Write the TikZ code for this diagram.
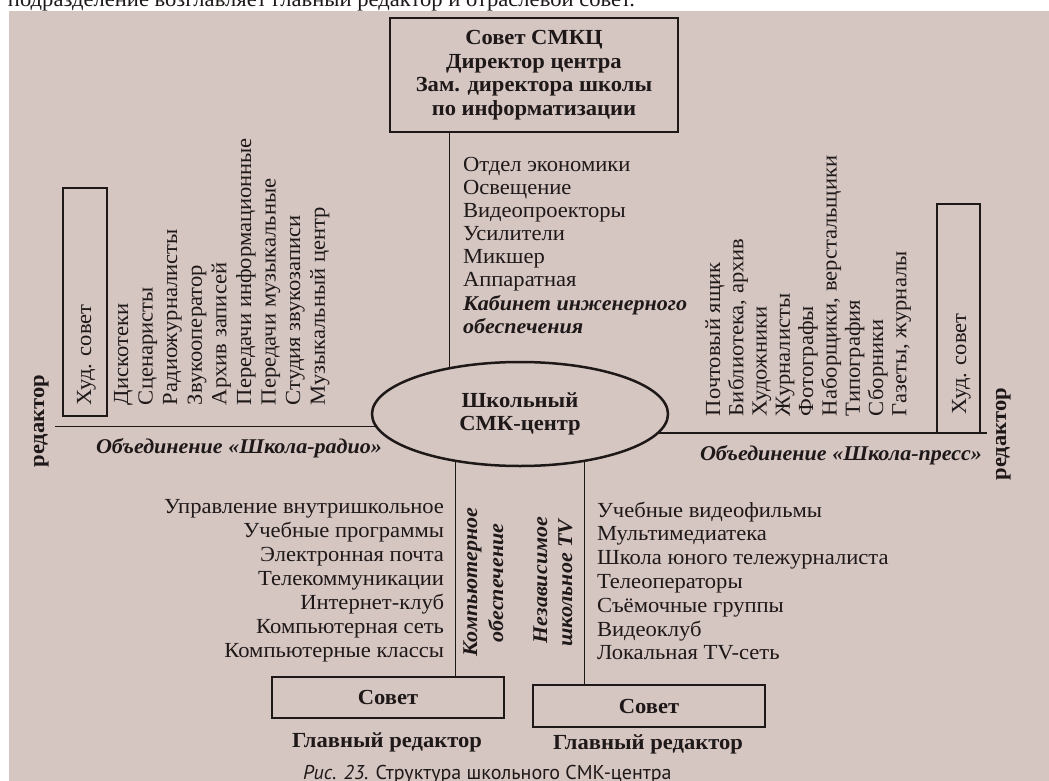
\documentclass[tikz,border=0pt]{standalone}
\usepackage{fontspec}
\setmainfont{Liberation Serif}[FakeStretch=1.05]
\newfontfamily\capfont{PT Sans}
\usetikzlibrary{shapes.geometric}
\definecolor{paper}{RGB}{213,198,194}
\definecolor{ink}{RGB}{30,24,24}

\begin{document}
\begin{tikzpicture}[x=1pt,y=-1pt,
  every node/.style={inner sep=0pt, outer sep=0pt, text=ink},
  body/.style={font=\fontsize{21.5}{23.5}\selectfont},
  heavy/.style={font=\bfseries\fontsize{21.5}{23.5}\selectfont},
  slanted/.style={font=\bfseries\itshape\fontsize{21}{23.5}\selectfont},
  frame/.style={draw=ink, line width=2.8pt, rectangle},
  link/.style={draw=ink, line width=1.8pt},
  up/.style={rotate=90, anchor=base west},
]
\useasboundingbox (0,0) rectangle (1049,781);
\clip (0,0) rectangle (1049,781);
\fill[white] (0,0) rectangle (1049,781);
\fill[paper] (9,11) rectangle (1049,781);

% last line of the preceding paragraph
\node[body, anchor=base west] (runin) at (8,7) {подразделение возглавляет главный редактор и отраслевой совет.};

% council box
\node[frame, heavy, align=center, minimum width=288pt, minimum height=114pt] (council) at (534,75)
  {Совет СМКЦ\\Директор центра\\Зам. директора школы\\по информатизации};

% engineering support list
\foreach [count=\i] \t in {Отдел экономики, Освещение, Видеопроекторы, Усилители, Микшер, Аппаратная}
  \node[body, anchor=base west] (eq\i) at (463, {171+23.1*(\i-1)}) {\t};
\node[slanted, anchor=base west] (eqA) at (463, 310) {Кабинет инженерного};
\node[slanted, anchor=base west] (eqB) at (463, 333) {обеспечения};

% central hub
\node[ellipse, draw=ink, line width=2.5pt, minimum width=296pt, minimum height=104pt,
      heavy, align=center] (hub) at (520,414) {Школьный\\СМК-центр};

% free ends of the horizontal branches
\coordinate (radioEnd) at (55,427);
\coordinate (pressEnd) at (987,434);

% art councils
\node[frame, minimum width=44pt, minimum height=228pt] (artL) at (85,302) {};
\node[body, up] (artLtext) at (91,405) {Худ. совет};
\node[frame, minimum width=43pt, minimum height=229pt] (artR) at (958.5,318.5) {};
\node[body, up] (artRtext) at (966,414) {Худ. совет};

% editors
\node[heavy, rotate=90, anchor=base] (edL) at (44,421) {редактор};
\node[heavy, rotate=90, anchor=base] (edR) at (1006,434) {редактор};

% radio branch
\foreach [count=\i] \t in {Дискотеки, Сценаристы, Радиожурналисты, Звукооператор, Архив записей,
    Передачи информационные, Передачи музыкальные, Студия звукозаписи, Музыкальный центр}
  \node[body, up] (radio\i) at ({128+24.6*(\i-1)}, 405) {\t};
\node[slanted, anchor=base west] (radioLbl) at (96,453) {Объединение «Школа-радио»};

% press branch
\foreach [count=\i] \t in {Почтовый ящик, {Библиотека, архив}, Художники, Журналисты, Фотографы,
    {Наборщики, верстальщики}, Типография, Сборники, {Газеты, журналы}}
  \node[body, up] (press\i) at ({720+23.3*(\i-1)}, 416) {\t};
\node[slanted, anchor=base west] (pressLbl) at (700,460) {Объединение «Школа-пресс»};

% lower branches
\node[slanted, rotate=90, anchor=base] (compA) at (477,582) {Компьютерное};
\node[slanted, rotate=90, anchor=base] (compB) at (503,583) {обеспечение};
\node[slanted, rotate=90, anchor=base] (tvA) at (547,580) {Независимое};
\node[slanted, rotate=90, anchor=base] (tvB) at (572,583) {школьное TV};

\foreach [count=\i] \t in {Управление внутришкольное, Учебные программы, Электронная почта,
    Телекоммуникации, Интернет-клуб, Компьютерная сеть, Компьютерные классы}
  \node[body, anchor=base east] (cl\i) at (444, {513+24*(\i-1)}) {\t};
\foreach [count=\i] \t in {Учебные видеофильмы, Мультимедиатека, Школа юного тележурналиста,
    Телеоператоры, Съёмочные группы, Видеоклуб, Локальная TV-сеть}
  \node[body, anchor=base west] (tl\i) at (597, {517+23.8*(\i-1)}) {\t};

\node[frame, heavy, minimum width=232pt, minimum height=41pt] (compBox) at (388,697.5) {Совет};
\node[frame, heavy, minimum width=232pt, minimum height=42pt] (tvBox) at (649,706) {Совет};
\node[heavy, anchor=base] (compHead) at (387,747) {Главный редактор};
\node[heavy, anchor=base] (tvHead) at (648,749) {Главный редактор};

% connectors
\draw[link] (hub.147) -- (hub.147 |- council.south);
\draw[link] (hub.185) -- (hub.185 -| radioEnd);
\draw[link] (hub.-8) -- (hub.-8 -| pressEnd);
\draw[link] (hub.216) -- (hub.216 |- compBox.north);
\draw[link] (hub.-36) -- (hub.-36 |- tvBox.north);

% caption
\node[font=\capfont\fontsize{20}{24}\selectfont, anchor=base west] (caption) at (303,779)
  {\textit{Рис. 23.} Структура школьного СМК-центра};
\end{tikzpicture}
\end{document}
